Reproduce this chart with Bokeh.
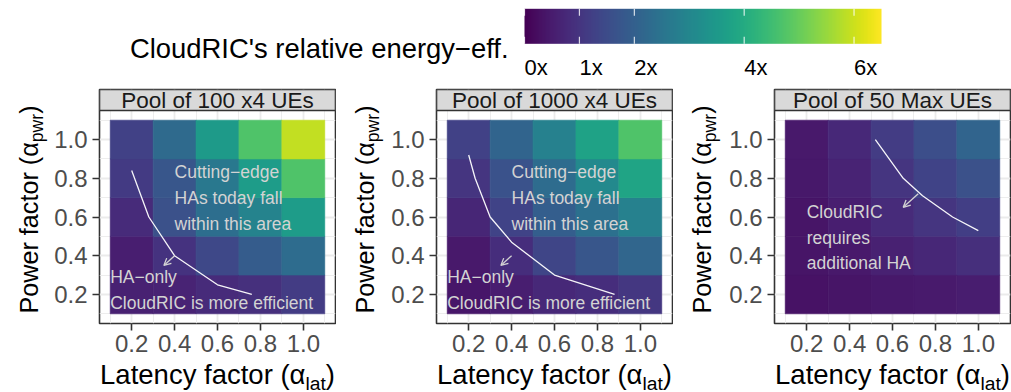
import numpy as np
from bokeh.plotting import figure
from bokeh.layouts import column, row
from bokeh.models import (LinearColorMapper, FixedTicker, PrintfTickFormatter,
                          Arrow, OpenHead, Range1d, ColumnDataSource)
from bokeh.palettes import Viridis256
from bokeh.transform import transform
from bokeh.core.properties import value
from bokeh.embed import file_html
from bokeh.resources import INLINE

FONT = "Liberation Sans"

# ---------------------------------------------------------------- data
lat = [0.2, 0.4, 0.6, 0.8, 1.0]          # latency factor (x)
pwr = [0.2, 0.4, 0.6, 0.8, 1.0]          # power factor (y)
minor_breaks = [0.1, 0.3, 0.5, 0.7, 0.9, 1.1]

panel_titles = ["Pool of 100 x4 UEs", "Pool of 1000 x4 UEs", "Pool of 50 Max UEs"]

# CloudRIC's relative energy efficiency; rows follow pwr (0.2 -> 1.0), columns follow lat
eff_pool100 = [
    [0.60, 0.65, 0.80, 0.90, 1.15],
    [0.55, 0.95, 1.40, 1.90, 2.30],
    [0.80, 1.60, 2.35, 2.90, 3.60],
    [1.10, 1.75, 2.60, 3.60, 4.70],
    [1.25, 2.25, 3.55, 4.70, 5.90],
]
eff_pool1000 = [
    [0.40, 0.55, 0.75, 0.85, 1.05],
    [0.45, 0.85, 1.35, 1.75, 2.15],
    [0.70, 1.30, 1.95, 2.40, 2.85],
    [1.00, 1.65, 2.30, 3.05, 3.80],
    [1.25, 2.10, 2.85, 3.75, 4.70],
]
eff_pool50max = [
    [0.33, 0.36, 0.42, 0.47, 0.52],
    [0.36, 0.45, 0.60, 0.72, 0.88],
    [0.38, 0.55, 0.80, 1.00, 1.20],
    [0.42, 0.65, 1.00, 1.30, 1.60],
    [0.45, 0.75, 1.15, 1.55, 2.10],
]

# break-even boundary between HA-only and CloudRIC
bound_pool100_lat = [0.20, 0.28, 0.40, 0.60, 0.76]
bound_pool100_pwr = [0.84, 0.60, 0.40, 0.25, 0.20]
bound_pool1000_lat = [0.20, 0.23, 0.30, 0.40, 0.60, 0.88]
bound_pool1000_pwr = [0.92, 0.80, 0.60, 0.47, 0.30, 0.20]
bound_pool50_lat = [0.52, 0.65, 0.74, 0.88, 1.00]
bound_pool50_pwr = [1.00, 0.80, 0.71, 0.60, 0.53]

# colour scale
cbar_limits = (0.0, 6.5)
cbar_breaks = [0, 1, 2, 4, 6]
cbar_labels = ["0x", "1x", "2x", "4x", "6x"]
cbar_title = "CloudRIC's relative energy\u2212eff."

mapper = LinearColorMapper(palette=Viridis256, low=cbar_limits[0], high=cbar_limits[1])

# ---------------------------------------------------------------- helpers
ADV = {' ': .278, '(': .333, ')': .333, '\u03b1': .577, 'L': .556, 'a': .556, 't': .278,
       'e': .556, 'n': .556, 'c': .5, 'y': .5, 'f': .278, 'o': .556, 'r': .333,
       'P': .667, 'w': .722, 'l': .222, 'p': .556}


def text_w(s, size):
    return size * sum(ADV.get(ch, 0.556) for ch in s)


TICK_COL = "#4D4D4D"
BORDER = "#333333"
GRID = "#EBEBEB"
NOTE_COL = "#D3D3D3"
XTITLE_SIZE = 27.5
YTITLE_SIZE = 25.2
SUB_SCALE = 0.7
SUB_DROP = 6
MID = 0.35                     # middle of the em box above the baseline

BLOCK_H = 307
YT_W = 50                      # strip of each block holding the rotated y title
PAN_H = 276
XT_H = BLOCK_H - PAN_H
PANEL_PX = 213
STRIP_PX = 21
TOP_B = 4
FRAME_H = PANEL_PX + STRIP_PX
BOT_B = PAN_H - TOP_B - FRAME_H
FRAME_W = 236
X0, X1 = 0.05, 1.15
Y0, Y1 = 0.05, 1.15
Y_TOP = Y1 + (Y1 - Y0) * STRIP_PX / PANEL_PX
XT_CENTER_FROM_TOP = 374 - (85 + PAN_H)   # x title sits at page row 374


def blank(width, height):
    f = figure(width=width, height=height, x_range=Range1d(0, width), y_range=Range1d(0, height),
               x_axis_type=None, y_axis_type=None, frame_align=False,
               output_backend="svg", toolbar_location=None, title=None, min_border=0,
               min_border_left=0, min_border_right=0, min_border_top=0, min_border_bottom=0)
    f.outline_line_color = None
    f.background_fill_color = "white"
    f.border_fill_color = "white"
    return f


def title_run(f, main, sub, size, cx, cy, rotated):
    """Axis title with a subscript, centred on (cx, cy) in the figure's pixel units."""
    sub_size = size * SUB_SCALE
    w_main = text_w(main, size)
    w_sub = text_w(sub, sub_size)
    w_close = text_w(")", size)
    start = -(w_main + w_sub + w_close) / 2
    offs = [start, start + w_main, start + w_main + w_sub]
    sizes = [size, sub_size, size]
    drops = [0, SUB_DROP, 0]
    for txt, off, sz, drop in zip([main, sub, ")"], offs, sizes, drops):
        lift = MID * size - MID * sz
        if rotated:
            x, y, ang = cx + drop + lift, cy + off, np.pi / 2
        else:
            x, y, ang = cx + off, cy - drop - lift, 0
        f.text(x=[x], y=[y], text=[txt], angle=ang, text_font=value(FONT),
               text_font_size=f"{sz}px", text_color="black", text_align="left",
               text_baseline="middle")


def make_panel(title, eff, bx, by, arrow, notes, block_w, frame_left):
    pw = block_w - YT_W
    left_b = frame_left - YT_W
    right_b = pw - left_b - FRAME_W
    p = figure(frame_width=FRAME_W, frame_height=FRAME_H, frame_align=False,
               x_range=Range1d(X0, X1), y_range=Range1d(Y0, Y_TOP),
               output_backend="svg", toolbar_location=None, title=None,
               min_border_left=left_b, min_border_right=right_b,
               min_border_top=TOP_B, min_border_bottom=BOT_B)
    p.background_fill_color = "white"
    p.border_fill_color = "white"
    p.outline_line_color = BORDER
    p.outline_line_width = 1.6

    ticker = FixedTicker(ticks=lat, minor_ticks=minor_breaks)
    for ax in (p.xaxis[0], p.yaxis[0]):
        ax.ticker = ticker
        ax.formatter = PrintfTickFormatter(format="%.1f")
        ax.axis_line_color = None
        ax.major_tick_line_color = BORDER
        ax.major_tick_line_width = 1.6
        ax.major_tick_in = 0
        ax.major_tick_out = 7
        ax.minor_tick_line_color = None
        ax.major_label_text_font = FONT
        ax.major_label_text_font_size = "24px"
        ax.major_label_text_color = TICK_COL
        ax.major_label_standoff = 4
    p.yaxis[0].major_label_standoff = 5
    for g in (p.xgrid[0], p.ygrid[0]):
        g.grid_line_color = GRID
        g.grid_line_width = 1.8
        g.minor_grid_line_color = GRID
        g.minor_grid_line_width = 0.9

    xs, ys, vs = [], [], []
    for i, yv in enumerate(pwr):
        for j, xv in enumerate(lat):
            xs.append(xv)
            ys.append(yv)
            vs.append(eff[i][j])
    src = ColumnDataSource(dict(x=xs, y=ys, v=vs))
    p.rect(x="x", y="y", width=0.2, height=0.2, source=src,
           fill_color=transform("v", mapper), line_color=transform("v", mapper), line_width=0.6)

    p.line(bx, by, line_color="white", line_width=1.3, line_alpha=0.95)
    (xa, ya), (xb, yb) = arrow
    p.add_layout(Arrow(x_start=xa, y_start=ya, x_end=xb, y_end=yb, line_color=NOTE_COL,
                       line_width=1.3, end=OpenHead(size=7, line_color=NOTE_COL, line_width=1.3)))

    for txt, xn, yn in notes:
        p.text(x=[xn], y=[yn], text=[txt], text_font=value(FONT), text_font_size="17.5px",
               text_color=NOTE_COL, text_align="left", text_baseline="middle")

    # facet strip
    p.quad(left=X0, right=X1, bottom=Y1, top=Y_TOP, fill_color="#D9D9D9",
           line_color=BORDER, line_width=1.6)
    p.text(x=[(X0 + X1) / 2], y=[(Y1 + Y_TOP) / 2], text=[title], text_font=value(FONT),
           text_font_size="22.5px", text_color="#1A1A1A", text_align="center",
           text_baseline="middle")

    # y title (rotated) left of the panel, x title under it
    yt = blank(YT_W, BLOCK_H)
    title_run(yt, "Power factor (\u03b1", "pwr", YTITLE_SIZE, 37 - MID * YTITLE_SIZE, 183,
              rotated=True)
    xt = blank(pw, XT_H)
    title_run(xt, "Latency factor (\u03b1", "lat", XTITLE_SIZE, left_b + FRAME_W / 2,
              XT_H - XT_CENTER_FROM_TOP, rotated=False)
    return row(yt, column(p, xt, spacing=0), spacing=0)


notes_hw = [("Cutting\u2212edge", 0.4, 0.83), ("HAs today fall", 0.4, 0.697),
            ("within this area", 0.4, 0.563), ("HA\u2212only", 0.1, 0.291),
            ("CloudRIC is more efficient", 0.1, 0.157)]
notes_max = [("CloudRIC", 0.2, 0.626), ("requires", 0.2, 0.492), ("additional HA", 0.2, 0.36)]

b1 = make_panel(panel_titles[0], eff_pool100, bound_pool100_lat, bound_pool100_pwr,
                ((0.4, 0.4), (0.35, 0.35)), notes_hw, 336, 99)
b2 = make_panel(panel_titles[1], eff_pool1000, bound_pool1000_lat, bound_pool1000_pwr,
                ((0.4, 0.4), (0.35, 0.35)), notes_hw, 337, 100)
b3 = make_panel(panel_titles[2], eff_pool50max, bound_pool50_lat, bound_pool50_pwr,
                ((0.72, 0.72), (0.65, 0.65)), notes_max, 338, 101)

# ---------------------------------------------------------------- colour bar legend
LEG_W, LEG_H = 1011, 85
BAR_LEFT, BAR_RIGHT = 524, 881          # pixel extent of the bar
BAR_TOP, BAR_BOT = 8.3, 43.3
k = (BAR_RIGHT - BAR_LEFT) / (cbar_limits[1] - cbar_limits[0])
leg = figure(width=LEG_W, height=LEG_H, output_backend="svg", toolbar_location=None, title=None,
             x_range=Range1d(cbar_limits[0] - BAR_LEFT / k, cbar_limits[0] + (LEG_W - BAR_LEFT) / k),
             y_range=Range1d(0, LEG_H), x_axis_type=None, y_axis_type=None, frame_align=False,
             min_border=0, min_border_left=0, min_border_right=0,
             min_border_top=0, min_border_bottom=0)
leg.outline_line_color = None
leg.background_fill_color = "white"
leg.border_fill_color = "white"

grad = np.linspace(cbar_limits[0], cbar_limits[1], 512)[None, :]
leg.image(image=[grad], x=cbar_limits[0], y=LEG_H - BAR_BOT, dw=cbar_limits[1] - cbar_limits[0],
          dh=BAR_BOT - BAR_TOP, color_mapper=mapper)
tick_len = (BAR_BOT - BAR_TOP) / 5
n = len(cbar_breaks)
leg.segment(x0=cbar_breaks, x1=cbar_breaks, y0=[LEG_H - BAR_TOP] * n,
            y1=[LEG_H - BAR_TOP - tick_len] * n, line_color="white", line_alpha=0.8, line_width=1.2)
leg.segment(x0=cbar_breaks, x1=cbar_breaks, y0=[LEG_H - BAR_BOT] * n,
            y1=[LEG_H - BAR_BOT + tick_len] * n, line_color="white", line_alpha=0.8, line_width=1.2)
leg.text(x=cbar_breaks, y=[LEG_H - 66.7] * n, text=cbar_labels, text_font=value(FONT),
         text_font_size="22px", text_color="black", text_align="left", text_baseline="middle")
leg.text(x=[cbar_limits[0] - 16 / k], y=[LEG_H - 47.5], text=[cbar_title], text_font=value(FONT),
         text_font_size="27.4px", text_color="black", text_align="right", text_baseline="middle")

layout = column(leg, row(b1, b2, b3, spacing=0), spacing=0)
html = file_html(layout, INLINE)
html = html.replace("<head>", "<head><style>html, body {margin: 0; padding: 0; overflow: hidden;}</style>", 1)
open("out.html", "w").write(html)
